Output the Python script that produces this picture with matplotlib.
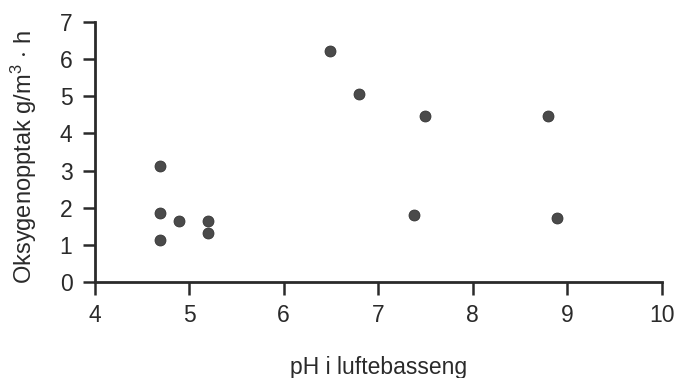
import matplotlib
matplotlib.use("Agg")
import matplotlib.pyplot as plt

ph = [4.69, 4.69, 4.69, 4.89, 5.20, 5.20, 6.49, 6.80, 7.38, 7.50, 8.80, 8.89]
oxygen = [3.13, 1.85, 1.13, 1.63, 1.65, 1.31, 6.23, 5.05, 1.81, 4.46, 4.48, 1.72]
xticks = [4, 5, 6, 7, 8, 9, 10]
yticks = [0, 1, 2, 3, 4, 5, 6, 7]
xlabel = "pH i luftebasseng"
ylabel = r"Oksygenopptak g/m$^{3}$ $\cdot$ h"

plt.rcParams['font.family'] = ['Liberation Sans', 'DejaVu Sans']
plt.rcParams['mathtext.fontset'] = 'custom'
plt.rcParams['mathtext.rm'] = 'Liberation Sans'
plt.rcParams['mathtext.it'] = 'Liberation Sans'
plt.rcParams['mathtext.default'] = 'regular'
ink = '#2a2a2a'

fig = plt.figure(figsize=(6.76, 3.78), dpi=100)
ax = fig.add_axes([0.140, 0.254, 0.839, 0.688])
ax.scatter(ph, oxygen, s=62, color='#4a4a4a', edgecolors='#333333', linewidths=0.6, zorder=3, clip_on=False)

ax.set_xlim(4, 10)
ax.set_ylim(0, 7)
ax.set_xticks(xticks)
ax.set_yticks(yticks)
for s in ['top', 'right']:
    ax.spines[s].set_visible(False)
for s in ['left', 'bottom']:
    ax.spines[s].set_linewidth(2.0)
    ax.spines[s].set_color(ink)
ax.tick_params(axis='both', direction='out', length=9, width=1.8, color=ink,
               labelsize=16.5, labelcolor=ink)
ax.tick_params(axis='x', pad=7)
ax.tick_params(axis='y', pad=7)

ax.set_xlabel(xlabel, fontsize=16.5, color=ink, va='center')
ax.xaxis.set_label_coords(0.501, -0.327)
ax.set_ylabel(ylabel, fontsize=17, color=ink, va='center')
ax.yaxis.set_label_coords(-0.125, 0.481)

fig.savefig("out.png", dpi=100)
